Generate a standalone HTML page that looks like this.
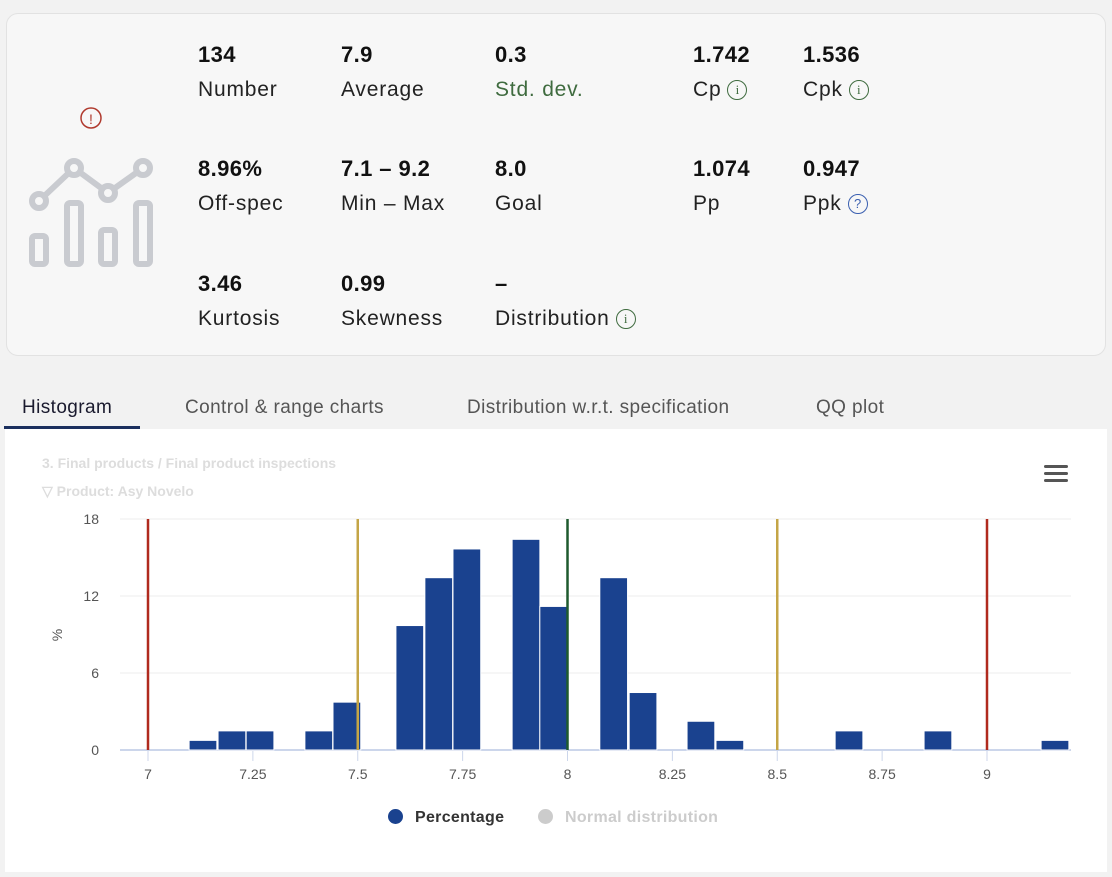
<!DOCTYPE html>
<html><head><meta charset="utf-8"><style>
body{margin:0;width:1112px;height:877px;background:#f2f2f2;font-family:"Liberation Sans",sans-serif;position:relative;overflow:hidden;color:#1a1a2e}
.card{position:absolute;left:6px;top:13px;width:1100px;height:343px;background:#f7f7f7;border:1px solid #e2e2e2;border-radius:12px;box-sizing:border-box}
.v{position:absolute;font-size:22px;font-weight:bold;color:#111;white-space:nowrap;letter-spacing:0.4px}
.l{position:absolute;font-size:21px;color:#222;white-space:nowrap;letter-spacing:0.8px}
.i{display:inline-block;width:18px;height:18px;border:1.5px solid #3f6b3f;border-radius:50%;font-size:13px;line-height:18px;text-align:center;color:#3f6b3f;vertical-align:2px;margin-left:6px;font-family:"Liberation Serif",serif;letter-spacing:0}
.tab{position:absolute;top:397px;font-size:19px;color:#555;white-space:nowrap;letter-spacing:0.4px}
.panel{position:absolute;left:5px;top:429px;width:1102px;height:443px;background:#fff}
</style></head><body>
<div class="card"></div>
<svg style="position:absolute;left:0;top:0" width="200" height="300">
<circle cx="91" cy="118" r="10" fill="none" stroke="#b03a2e" stroke-width="1.5"/>
<text x="91" y="124" font-size="14" fill="#b03a2e" text-anchor="middle" font-family="Liberation Sans">!</text>
<g fill="#f7f7f7" stroke="#c9cbd0" stroke-width="6">
<polyline fill="none" points="39,201 74,168 108,193 143,168"/>
<circle cx="39" cy="201" r="7"/><circle cx="74" cy="168" r="7"/><circle cx="108" cy="193" r="7"/><circle cx="143" cy="168" r="7"/>
<rect x="32" y="236" width="14" height="28" rx="3"/><rect x="67" y="203" width="14" height="61" rx="3"/><rect x="101" y="230" width="14" height="34" rx="3"/><rect x="136" y="203" width="14" height="61" rx="3"/>
</g></svg>
<div><div class="v" style="left:198px;top:42px">134</div><div class="l" style="left:198px;top:78px">Number</div></div>
<div><div class="v" style="left:341px;top:42px">7.9</div><div class="l" style="left:341px;top:78px">Average</div></div>
<div><div class="v" style="left:495px;top:42px">0.3</div><div class="l" style="left:495px;top:78px;color:#3f6b3f">Std. dev.</div></div>
<div><div class="v" style="left:693px;top:42px">1.742</div><div class="l" style="left:693px;top:78px">Cp<span class="i">i</span></div></div>
<div><div class="v" style="left:803px;top:42px">1.536</div><div class="l" style="left:803px;top:78px">Cpk<span class="i">i</span></div></div>
<div><div class="v" style="left:198px;top:156px">8.96%</div><div class="l" style="left:198px;top:192px">Off-spec</div></div>
<div><div class="v" style="left:341px;top:156px">7.1 – 9.2</div><div class="l" style="left:341px;top:192px">Min – Max</div></div>
<div><div class="v" style="left:495px;top:156px">8.0</div><div class="l" style="left:495px;top:192px">Goal</div></div>
<div><div class="v" style="left:693px;top:156px">1.074</div><div class="l" style="left:693px;top:192px">Pp</div></div>
<div><div class="v" style="left:803px;top:156px">0.947</div><div class="l" style="left:803px;top:192px">Ppk<span class="i" style="border-color:#3a5fb0;color:#3a5fb0;font-family:'Liberation Sans'">?</span></div></div>
<div><div class="v" style="left:198px;top:271px">3.46</div><div class="l" style="left:198px;top:307px">Kurtosis</div></div>
<div><div class="v" style="left:341px;top:271px">0.99</div><div class="l" style="left:341px;top:307px">Skewness</div></div>
<div><div class="v" style="left:495px;top:271px">–</div><div class="l" style="left:495px;top:307px">Distribution<span class="i">i</span></div></div>

<div class="tab" style="left:22px;color:#1a1a2e">Histogram</div>
<div style="position:absolute;left:4px;top:426px;width:136px;height:3px;background:#1b2f5e"></div>
<div class="tab" style="left:185px">Control &amp; range charts</div>
<div class="tab" style="left:467px">Distribution w.r.t. specification</div>
<div class="tab" style="left:816px">QQ plot</div>
<div class="panel"></div>
<div style="position:absolute;left:42px;top:455px;font-size:14px;color:#ddd;font-weight:bold">3. Final products / Final product inspections</div>
<div style="position:absolute;left:42px;top:483px;font-size:14px;color:#ddd;font-weight:bold">▽ Product: Asy Novelo</div>
<div style="position:absolute;left:1044px;top:465px;width:24px">
<div style="height:3px;background:#555;border-radius:2px;margin-bottom:4px"></div><div style="height:3px;background:#555;border-radius:2px;margin-bottom:4px"></div><div style="height:3px;background:#555;border-radius:2px"></div></div>
<svg id="chart" style="position:absolute;left:0;top:0" width="1112" height="877"></svg>
<script>
const binStarts=[7.098,7.167,7.234,7.374,7.441,7.591,7.660,7.727,7.868,7.934,8.077,8.147,8.285,8.354,8.638,8.850,9.129];
const percentages=[0.75,1.49,1.49,1.49,3.73,9.70,13.43,15.67,16.42,11.19,13.43,4.48,2.24,0.75,1.49,1.49,0.75];
const binWidth=0.0685;
const yTicks=[0,6,12,18];
const xTicks=[7,7.25,7.5,7.75,8,8.25,8.5,8.75,9];
const xTickLabels=["7","7.25","7.5","7.75","8","8.25","8.5","8.75","9"];
const specLimits=[7,9];
const warnLimits=[7.5,8.5];
const goal=[8];
const NS="http://www.w3.org/2000/svg";
const svg=document.getElementById('chart');
const X=v=>148+(v-7)*419.5;
const Y=v=>750-v*12.83;
function mk(t,a){const e=document.createElementNS(NS,t);for(const k in a)e.setAttribute(k,a[k]);svg.appendChild(e);return e;}
yTicks.forEach(t=>{
 const g=mk('line',{x1:120,x2:1071,y1:Y(t),y2:Y(t),stroke:t==0?'#ccd6eb':'#eee','stroke-width':t==0?2:1});
 
 
 const tx=mk('text',{x:99,y:Y(t)+5,'text-anchor':'end','font-size':14,fill:'#555','font-family':'Liberation Sans'});
 tx.textContent=t;
 
 
});
xTicks.forEach((t,i)=>{
 const l=mk('line',{x1:X(t),x2:X(t),y1:751,y2:761,stroke:'#ccd6eb'});
 
 
 const tx=mk('text',{x:X(t),y:779,'text-anchor':'middle','font-size':14,fill:'#555','font-family':'Liberation Sans'});
 tx.textContent=xTickLabels[i];
 
 
});
const yt=mk('text',{x:62,y:635,'text-anchor':'middle','font-size':14,fill:'#555',transform:'rotate(-90 62 635)','font-family':'Liberation Sans'});
yt.textContent='%';


binStarts.forEach((b,i)=>{
 const r=mk('rect',{x:X(b),y:Y(percentages[i]),width:X(b+binWidth)-X(b)-1,height:Y(0)-Y(percentages[i]),fill:'#1a428f',stroke:'#fff','stroke-width':1});
 
 
});
function vline(v,c,n){const l=mk('line',{x1:X(v),x2:X(v),y1:Y(18),y2:Y(0),stroke:c,'stroke-width':2.5});
 
 }
specLimits.forEach(v=>vline(v,'#b02a1e','spec-limit-line'));
warnLimits.forEach(v=>vline(v,'#c4a546','warning-limit-line'));
goal.forEach(v=>vline(v,'#1e5a2e','goal-line'));
</script>
<div style="position:absolute;left:388px;top:809px;font-size:16px;font-weight:bold;color:#333;white-space:nowrap;letter-spacing:0.3px"><span style="display:inline-block;width:15px;height:15px;border-radius:50%;background:#1a428f;vertical-align:-2px;margin-right:12px"></span>Percentage</div>
<div style="position:absolute;left:538px;top:809px;font-size:16px;font-weight:bold;color:#ccc;white-space:nowrap;letter-spacing:0.3px"><span style="display:inline-block;width:15px;height:15px;border-radius:50%;background:#ccc;vertical-align:-2px;margin-right:12px"></span>Normal distribution</div>
</body></html>
